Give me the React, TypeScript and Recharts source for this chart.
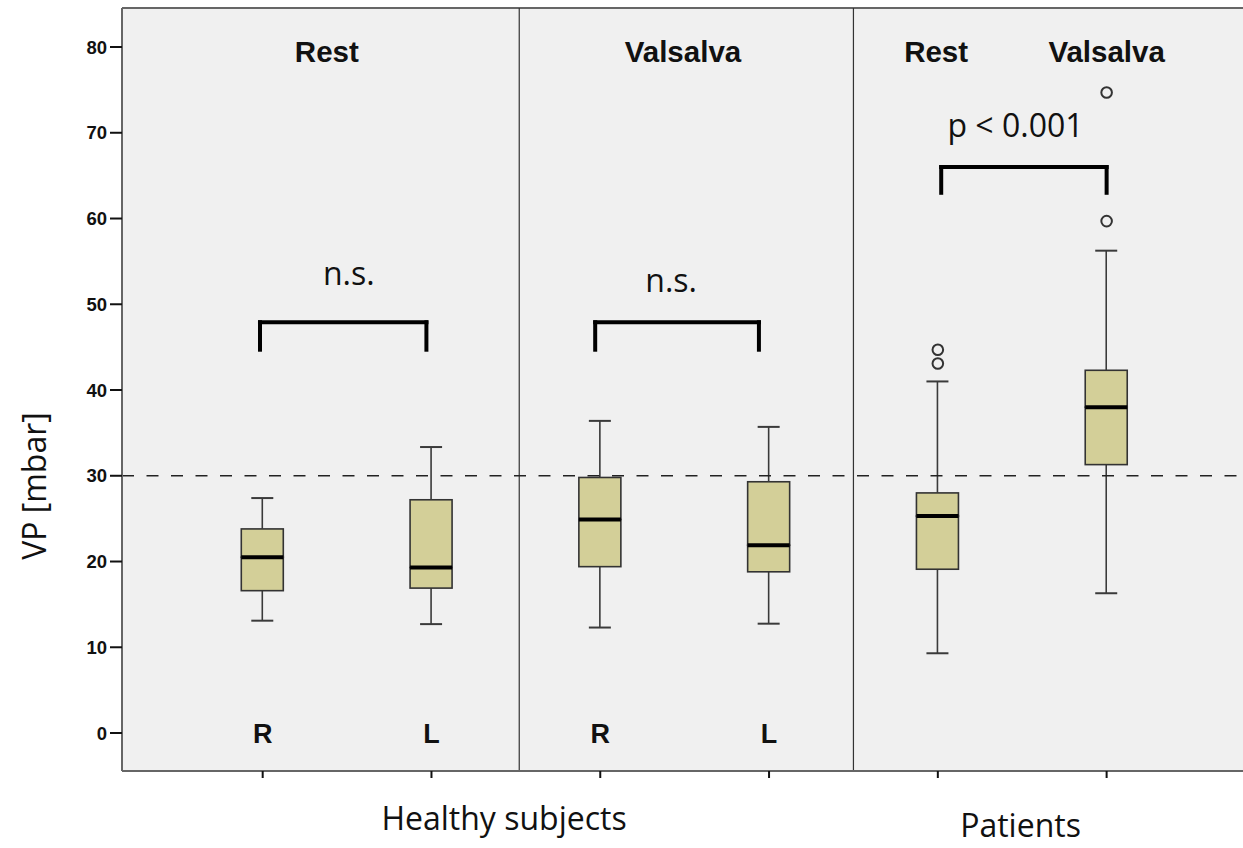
import {
  ComposedChart,
  Bar,
  Scatter,
  XAxis,
  YAxis,
  CartesianGrid,
  ReferenceLine,
  ReferenceDot,
} from "recharts";

// box positions: healthy rest R/L, healthy valsalva R/L, patients rest/valsalva
const positions = [1, 2, 3, 4, 5, 6];
const sideLabels = ["R", "L", "R", "L", "", ""];
const mins = [13.1, 12.7, 12.3, 12.75, 9.3, 16.3];
const q1s = [16.6, 16.9, 19.4, 18.8, 19.1, 31.3];
const medians = [20.5, 19.3, 24.9, 21.9, 25.3, 38.0];
const q3s = [23.8, 27.2, 29.8, 29.3, 28.0, 42.3];
const maxs = [27.4, 33.35, 36.4, 35.7, 41.0, 56.25];

const outlierX = [5, 5, 6, 6];
const outlierY = [44.7, 43.1, 59.7, 74.7];

const titles = ["Rest", "Valsalva", "Rest", "Valsalva"];
const titleX = [1.38, 3.49, 4.99, 6.0];

const bracketLeft = [0.984, 2.97, 5.02];
const bracketRight = [1.97, 3.94, 6.0];
const bracketTop = [47.9, 47.9, 66.0];
const bracketBottom = [44.7, 44.7, 63.0];
const bracketText = ["n.s.", "n.s.", "p < 0.001"];
const bracketTextX = [1.51, 3.42, 5.46];
const bracketTextY = [53.6, 52.8, 70.85];

const groupNames = ["Healthy subjects", "Patients"];
const groupX = [2.43, 5.49];
const groupY = [-9.98, -10.8];

const separators = [2.52, 4.5];
const threshold = 30;
const yTicks = [0, 10, 20, 30, 40, 50, 60, 70, 80];
const xDomain: [number, number] = [0.1665, 6.808];
const yDomain: [number, number] = [-4.43, 84.55];

const table = positions.map((x, i) => ({
  x,
  base: mins[i],
  lowWhisker: q1s[i] - mins[i],
  lowBox: medians[i] - q1s[i],
  highBox: q3s[i] - medians[i],
  highWhisker: maxs[i] - q3s[i],
}));

const outliers = outlierX.map((x, i) => ({ x, y: outlierY[i] }));

const BOX_FILL = "#d3cf98";
const LINE = "#3a3a3a";

const WhiskerLow = (p: any) => {
  const cx = p.x + p.width / 2;
  const bottom = p.y + p.height;
  return (
    <g>
      <line x1={cx} x2={cx} y1={p.y} y2={bottom} stroke={LINE} strokeWidth={1.6} />
      <line x1={cx - 11} x2={cx + 11} y1={bottom} y2={bottom} stroke={LINE} strokeWidth={2} />
    </g>
  );
};

const WhiskerHigh = (p: any) => {
  const cx = p.x + p.width / 2;
  return (
    <g>
      <line x1={cx} x2={cx} y1={p.y} y2={p.y + p.height} stroke={LINE} strokeWidth={1.6} />
      <line x1={cx - 11} x2={cx + 11} y1={p.y} y2={p.y} stroke={LINE} strokeWidth={2} />
    </g>
  );
};

const BoxLow = (p: any) => (
  <rect x={p.x} y={p.y} width={p.width} height={p.height} fill={BOX_FILL} stroke="#333" strokeWidth={1.6} />
);

const BoxHigh = (p: any) => (
  <g>
    <rect x={p.x} y={p.y} width={p.width} height={p.height} fill={BOX_FILL} stroke="#333" strokeWidth={1.6} />
    <line x1={p.x} x2={p.x + p.width} y1={p.y + p.height} y2={p.y + p.height} stroke="#000" strokeWidth={4} />
  </g>
);

const Outlier = (p: any) => (
  <circle cx={p.cx} cy={p.cy} r={5.3} fill="none" stroke="#333" strokeWidth={2} />
);

const boldFont = "'Liberation Sans', Arial, sans-serif";
const plainFont = "'Open Sans', 'Noto Sans', sans-serif";

export default function App() {
  return (
    <div style={{ position: "absolute", left: 0, top: 0, width: 1243, height: 848, background: "#fff" }}>
      <ComposedChart
        width={1243}
        height={848}
        data={table}
        margin={{ top: 8, right: 0, bottom: 0, left: 0 }}
      >
        <CartesianGrid fill="#f0f0f0" horizontal={false} vertical={false} />
        <XAxis
          type="number"
          dataKey="x"
          domain={xDomain}
          ticks={positions}
          interval={0}
          allowDataOverflow
          height={77}
          tickSize={7}
          axisLine={{ stroke: "#666", strokeWidth: 2 }}
          tickLine={{ stroke: "#111", strokeWidth: 2 }}
          tick={() => <g />}
        />
        <YAxis
          type="number"
          domain={yDomain}
          ticks={yTicks}
          allowDataOverflow
          width={122}
          tickSize={12}
          tickMargin={3}
          axisLine={{ stroke: "#666", strokeWidth: 2 }}
          tickLine={{ stroke: "#111", strokeWidth: 2 }}
          tick={{ fill: "#111", fontSize: 18.5, fontWeight: 700, fontFamily: boldFont }}
        />
        <ReferenceLine y={yDomain[1]} stroke="#666" strokeWidth={2} />
        {separators.map((s) => (
          <ReferenceLine key={"sep" + s} x={s} stroke="#333" strokeWidth={1.2} />
        ))}
        <ReferenceLine y={threshold} stroke="#222" strokeWidth={1.5} strokeDasharray="12 12.5" />

        <Bar dataKey="base" stackId="box" fill="transparent" barSize={42} isAnimationActive={false} />
        <Bar dataKey="lowWhisker" stackId="box" shape={WhiskerLow} barSize={42} isAnimationActive={false} />
        <Bar dataKey="lowBox" stackId="box" shape={BoxLow} barSize={42} isAnimationActive={false} />
        <Bar dataKey="highBox" stackId="box" shape={BoxHigh} barSize={42} isAnimationActive={false} />
        <Bar dataKey="highWhisker" stackId="box" shape={WhiskerHigh} barSize={42} isAnimationActive={false} />
        <Scatter data={outliers} dataKey="y" shape={Outlier} isAnimationActive={false} />

        {bracketLeft.map((l, i) => (
          <ReferenceLine
            key={"bh" + i}
            segment={[
              { x: l, y: bracketTop[i] },
              { x: bracketRight[i], y: bracketTop[i] },
            ]}
            stroke="#000"
            strokeWidth={4}
            strokeLinecap="square"
          />
        ))}
        {bracketLeft.map((l, i) => (
          <ReferenceLine
            key={"bl" + i}
            segment={[
              { x: l, y: bracketTop[i] },
              { x: l, y: bracketBottom[i] },
            ]}
            stroke="#000"
            strokeWidth={4}
            strokeLinecap="square"
          />
        ))}
        {bracketRight.map((r, i) => (
          <ReferenceLine
            key={"br" + i}
            segment={[
              { x: r, y: bracketTop[i] },
              { x: r, y: bracketBottom[i] },
            ]}
            stroke="#000"
            strokeWidth={4}
            strokeLinecap="square"
          />
        ))}
        {bracketText.map((t, i) => (
          <ReferenceDot
            key={"bt" + i}
            x={bracketTextX[i]}
            y={bracketTextY[i]}
            r={0}
            fill="none"
            stroke="none"
            label={{ value: t, position: "center", fill: "#111", fontSize: 32, fontFamily: plainFont }}
          />
        ))}
        {titles.map((t, i) => (
          <ReferenceDot
            key={"ti" + i}
            x={titleX[i]}
            y={79.42}
            r={0}
            fill="none"
            stroke="none"
            label={{ value: t, position: "center", fill: "#111", fontSize: 29.5, fontWeight: 700, fontFamily: boldFont }}
          />
        ))}
        {sideLabels.map((t, i) =>
          t ? (
            <ReferenceDot
              key={"sl" + i}
              x={positions[i]}
              y={0}
              r={0}
              fill="none"
              stroke="none"
              label={{ value: t, position: "center", fill: "#111", fontSize: 27, fontWeight: 700, fontFamily: boldFont }}
            />
          ) : null
        )}
        {groupNames.map((g, i) => (
          <ReferenceDot
            key={"gn" + i}
            x={groupX[i]}
            y={groupY[i]}
            r={0}
            fill="none"
            stroke="none"
            ifOverflow="visible"
            label={{ value: g, position: "center", fill: "#111", fontSize: 32, fontFamily: plainFont }}
          />
        ))}
        <ReferenceDot
          x={-0.351}
          y={28.8}
          r={0}
          fill="none"
          stroke="none"
          ifOverflow="visible"
          label={{ value: "VP [mbar]", position: "center", angle: -90, fill: "#111", fontSize: 32, fontFamily: plainFont }}
        />
      </ComposedChart>
    </div>
  );
}
